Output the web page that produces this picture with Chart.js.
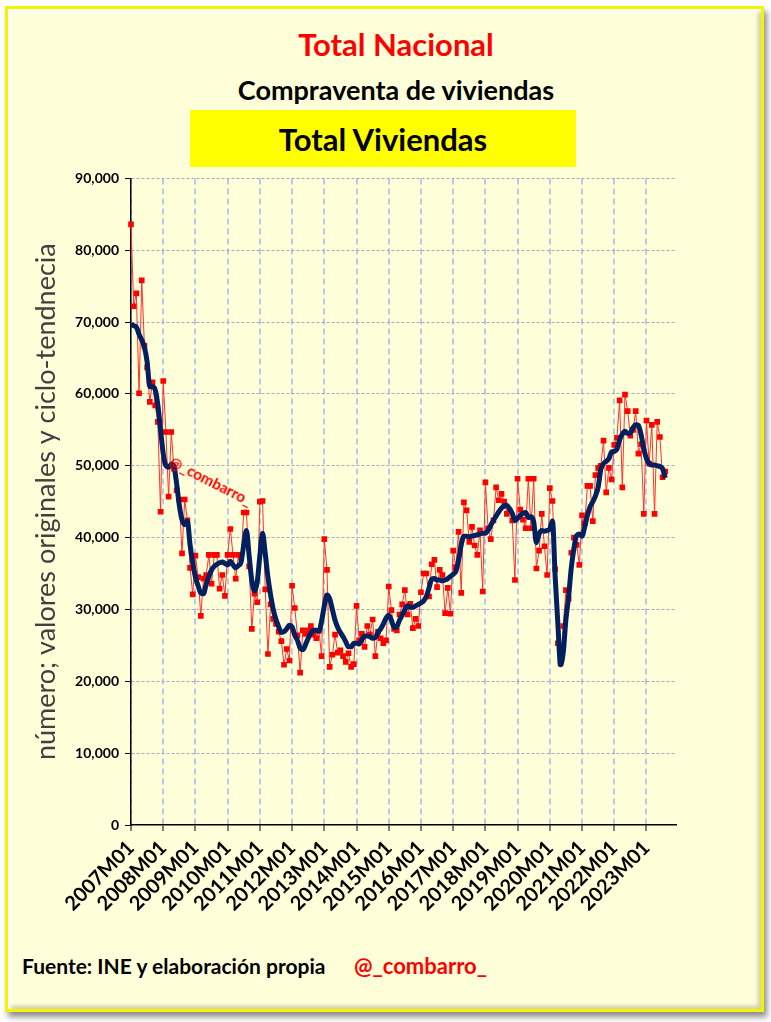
<!DOCTYPE html>
<html lang="es">
<head>
  <meta charset="UTF-8">
  <title>Compraventa de viviendas</title>
  <style>
    body{
      margin: 0;
      width: 771px;
      height: 1022px;
      position: relative;
      overflow: hidden;
      background: #fff;
      font-family: 'Lato', sans-serif;
    }
    .frame{
      position: absolute;
      left: 5px;
      top: 6px;
      width: 753px;
      height: 1000px;
      background: #ffffd9;
      border: 3px solid #f4f400;
      box-shadow: inset 3px 3px 4px rgba(255,255,255,.9), inset -3px -3px 4px rgba(110,110,70,.35), 3px 5px 6px rgba(0,0,0,.45);
    }
    .txt{
      position: absolute;
      font-weight: bold;
      white-space: nowrap;
      line-height: 1;
      transform: translate(-50%, -50%);
    }
    .caja{
      position: absolute;
      left: 190px;
      top: 110px;
      width: 386px;
      height: 57px;
      background: #ffff00;
    }
    .canvas-con{
      position: absolute;
      left: 0;
      top: 164px;
      width: 771px;
      height: 781px;
    }
    .pie{
      position: absolute;
      top: 953px;
      font-weight: bold;
      font-size: 21px;
      white-space: nowrap;
    }
  </style>
</head>
<body>
  <div class="frame"></div>
  <div class="txt" style="left:396px;top:44px;font-size:31px;color:#ff0000">Total Nacional</div>
  <div class="txt" style="left:396px;top:89px;font-size:27px;color:#000">Compraventa de viviendas</div>
  <div class="caja"></div>
  <div class="txt" style="left:383px;top:139px;font-size:31px;color:#000">Total Viviendas</div>
  <div class="canvas-con">
    <canvas id="myChart"></canvas>
  </div>
  <div class="txt" style="left:211px;top:481px;font-size:15px;color:#ff0000;transform:translate(-50%,-50%) rotate(27deg)">@_combarro_</div>
  <div class="pie" style="left:22px;color:#000">Fuente: INE y elaboración propia</div>
  <div class="pie" style="left:354px;color:#ff0000;font-size:22px;top:952px">@_combarro_</div>

  <script src="https://cdn.jsdelivr.net/npm/chart.js"></script>
  <script>
  const years = [2007, 2008, 2009, 2010, 2011, 2012, 2013, 2014, 2015, 2016, 2017, 2018, 2019, 2020, 2021, 2022, 2023]
  const months = ['01', '02', '03', '04', '05', '06', '07', '08', '09', '10', '11', '12']
  const meses = []
  for (const y of years) {
    for (const m of months) meses.push(y + 'M' + m)
  }

  // valores originales, 2007M01 - 2023M08
  const original = [
    83600, 72200, 74000, 60100, 75800, 66700, 63700, 58900, 61600, 58400, 56100, 43600,
    61800, 54700, 45700, 54700, 49600, 46600, 45300, 37800, 45300, 42400, 35800, 32100,
    37500, 34500, 29100, 34300, 34800, 37600, 33600, 37600, 37600, 32900, 34800, 31900,
    37600, 41200, 37600, 34300, 37600, 37200, 43500, 43500, 36000, 27300, 32200, 31000,
    45000, 45100, 32800, 23800, 30700, 28700, 28000, 26900, 25600, 22300, 24500, 22900,
    33300, 30200, 26400, 21200, 27100, 26600, 27100, 27700, 26500, 26000, 27000, 23500,
    39800, 35500, 22000, 23700, 26500, 24000, 24300, 23500, 22700, 23900, 22000, 22400,
    30500, 25700, 26600, 24800, 27700, 26500, 28600, 23500, 26900, 26000, 25300, 25700,
    33200, 29900, 27300, 27100, 29300, 30700, 32700, 29300, 30800, 27400, 28700, 27700,
    32400, 35000, 35000, 31800, 36300, 36900, 33100, 35500, 34800, 29500, 33000, 29400,
    38200, 35900, 40800, 32300, 44900, 43800, 39400, 41500, 38900, 37600, 41000, 32500,
    47700, 41300, 39800, 42400, 47000, 45200, 46100, 45000, 43300, 43800, 42400, 34100,
    48200, 43900, 42500, 41300, 48200, 41300, 48200, 35700, 38200, 43300, 38800, 34800,
    46900, 45100, 35600, 25300, 22500, 27700, 32700, 31500, 37900, 40000, 39000, 36200,
    43100, 42000, 47200, 47200, 42300, 48700, 49700, 50000, 53500, 46300, 49700, 48100,
    52900, 53900, 59100, 47000, 59900, 57600, 54200, 55000, 57600, 51700, 53000, 43300,
    56300, 50300, 55700, 43300, 56100, 54000, 48400, 49200
  ]

  // ciclo-tendencia
  const cicloTendencia = [
    69700, 69500, 69300, 68300, 67500, 66500, 64500, 61000, 61000, 60600, 58500, 55000,
    51700, 50000, 49800, 50200, 49900, 47500, 44500, 42500, 41800, 42300, 39000, 36500,
    34500, 33300, 32300, 32200, 33500, 34600, 35500, 36000, 36300, 36500, 36600, 36400,
    36200, 36700, 36200, 35800, 36100, 36600, 39000, 41000, 37500, 34000, 32600, 33800,
    37500, 40600, 37800, 34500, 32000, 30000, 28600, 27600, 26800, 26900, 27300, 27800,
    27600, 26400, 25700, 24600, 24400, 25100, 26000, 26700, 27100, 27100, 27000, 28400,
    30500, 32000, 31500, 30000, 28500, 27500, 26800, 26200, 25500, 24800, 24800, 25300,
    25300, 25200, 25800, 26300, 26300, 26200, 26000, 26100, 26800, 27300, 28000, 28800,
    29200, 28500, 27500, 27600, 28500, 29200, 30000, 30500, 30300, 30300, 30500, 30700,
    30900, 31200, 31800, 33000, 34200, 34300, 34100, 34100, 34000, 34100, 34300, 34600,
    34900, 35300, 36800, 39000, 40200, 40200, 40100, 40200, 40300, 40400, 40500, 40600,
    40600, 41000, 41700, 42400, 43000, 43600, 44100, 44400, 44500, 44000, 43400, 42400,
    42700, 43100, 43400, 43500, 42800, 42900, 42200, 39300, 40500, 41000, 40900, 41000,
    41200, 42300, 34500, 28000, 22300, 24000, 28600, 31800, 35800, 38500, 40300, 40500,
    40200, 41500, 43100, 44300, 45000, 45800, 47000, 49500, 50300, 50600, 51000, 51900,
    52000, 52300, 53600, 54400, 54800, 54500, 54600, 55300, 55700, 55600, 54300, 52400,
    51000, 50300, 50100, 50100, 50000, 49900, 49600, 48300
  ]

  const yMin = 0
  const yMax = 90000
  const yStep = 10000

  const boldFont = (size) => ({ family: 'Lato', weight: 'bold', size: size })

  let myChart = new Chart(document.getElementById('myChart'), {
    type: 'line',
    data: {
      labels: meses,
      datasets: [
        {
          label: 'Ciclo-tendencia',
          data: cicloTendencia,
          borderColor: '#002060',
          borderWidth: 5,
          pointRadius: 0,
          cubicInterpolationMode: 'monotone',
          order: 0
        },
        {
          label: 'Total Viviendas',
          data: original,
          borderColor: '#ff3030',
          borderWidth: 1,
          pointStyle: 'rect',
          pointRadius: 4,
          pointBorderWidth: 0,
          pointBackgroundColor: '#ff0000',
          order: 1
        }
      ]
    },
    options: {
      responsive: true,
      maintainAspectRatio: false,
      animation: false,
      layout: {
        padding: { top: 7, right: 95, left: 0, bottom: 0 }
      },
      plugins: {
        legend: { display: false },
        tooltip: { enabled: false }
      },
      scales: {
        x: {
          ticks: {
            autoSkip: false,
            maxRotation: 45,
            minRotation: 45,
            padding: 5,
            color: '#000',
            font: boldFont(20),
            callback: (v, i) => i % 12 === 0 ? meses[i] : ''
          },
          grid: {
            color: (c) => c.index % 12 === 0 ? '#b8cae6' : 'transparent',
            lineWidth: 2,
            tickColor: (c) => c.index % 12 === 0 ? '#000' : 'transparent',
            tickLength: 6,
            tickWidth: 1
          },
          border: { display: true, color: '#000', width: 1.5, dash: [6, 4] },
          afterFit: (s) => { s.height = 120 }
        },
        y: {
          min: yMin,
          max: yMax,
          ticks: {
            stepSize: yStep,
            padding: 6,
            color: '#000',
            font: boldFont(14)
          },
          grid: {
            color: (c) => c.tick && c.tick.value === 0 ? 'transparent' : '#a8a8ba',
            lineWidth: 1,
            tickColor: '#000',
            tickLength: 6
          },
          border: { display: true, color: '#000', width: 1.5, dash: [3, 2] },
          title: {
            display: true,
            text: 'número; valores originales y ciclo-tendnecia',
            color: '#404040',
            font: { family: 'Lato', size: 27 },
            padding: { top: 30, bottom: 0 }
          },
          afterFit: (s) => { s.width = 131 }
        }
      }
    }
  })
  </script>
</body>
</html>
